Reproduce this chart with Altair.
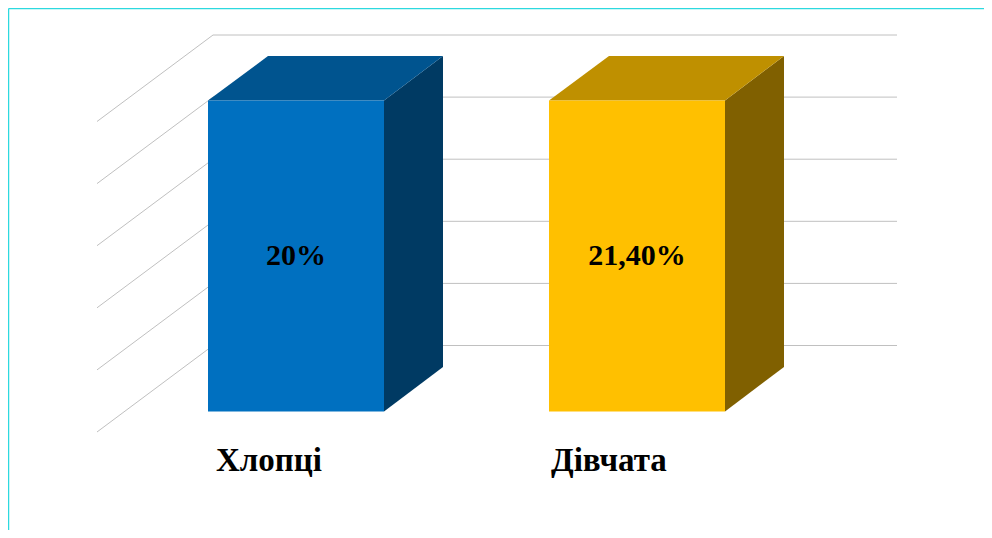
import altair as alt
import pandas as pd

# Chart content
categories = ["Хлопці", "Дівчата"]
value_labels = ["20%", "21,40%"]
bar_heights = [25, 25]          # drawn height on the chart's 0-25 axis
grid_values = [0, 5, 10, 15, 20, 25]

# Colours
front_colors = ["#0070C0", "#FFC000"]
top_colors = ["#00548F", "#BF9000"]
side_colors = ["#003A63", "#806000"]
grid_color = "#C0C0C0"
frame_color = "#2DD9DF"

# Oblique projection, in page units
bar_left = [208, 549]
bar_width = 176
bar_base = 411.5
unit = 12.44
depth_dx = 59
depth_dy = 44.5
wall_left = 97
wall_floor_front = 432
wall_floor_back = 345.5
wall_right = 213
wall_end = 897
grid_unit = 12.42
label_y = 256
cat_x = [216, 551]
cat_y = 470.5
frame_x = 8.6
frame_y = 8.6
page_w = 984
page_h = 530

X = alt.Scale(domain=[10, page_w], range=[0, page_w - 10])
Y = alt.Scale(domain=[10, page_h], range=[0, page_h - 10])
ex = lambda f: alt.X(f, type="quantitative", scale=X, axis=None)
ey = lambda f: alt.Y(f, type="quantitative", scale=Y, axis=None)

# Frame
frame = pd.DataFrame([
    {"x": frame_x, "x2": page_w, "y": frame_y, "y2": frame_y},
    {"x": frame_x, "x2": frame_x, "y": frame_y, "y2": page_h},
])
frame_layer = alt.Chart(frame).mark_rule(color=frame_color, strokeWidth=1.3).encode(
    x=ex("x"), x2="x2", y=ey("y"), y2="y2")

# Walls
walls = []
for v in grid_values:
    walls.append({"x": wall_left, "x2": wall_right,
                  "y": wall_floor_front - v * grid_unit,
                  "y2": wall_floor_back - v * grid_unit})
diag = alt.Chart(pd.DataFrame(walls)).mark_rule(color=grid_color, strokeWidth=1).encode(
    x=ex("x"), x2="x2", y=ey("y"), y2="y2")
horiz = pd.DataFrame([{"x": wall_right, "x2": wall_end, "y": wall_floor_back - v * grid_unit,
                       "y2": wall_floor_back - v * grid_unit} for v in grid_values])
horiz_layer = alt.Chart(horiz).mark_rule(color=grid_color, strokeWidth=1).encode(
    x=ex("x"), x2="x2", y=ey("y"), y2="y2")

# Bars
front, top, side, labels, cats = [], [], [], [], []
for i, cat in enumerate(categories):
    L, R = bar_left[i], bar_left[i] + bar_width
    T = bar_base - bar_heights[i] * unit
    front.append({"x": L, "x2": R, "y": T, "y2": bar_base, "c": front_colors[i]})
    top += [
        {"cat": cat, "y": T, "x": L, "x2": R, "c": top_colors[i]},
        {"cat": cat, "y": T - depth_dy, "x": L + depth_dx + 1, "x2": R + depth_dx, "c": top_colors[i]},
    ]
    side += [
        {"cat": cat, "x": R, "y": T, "y2": bar_base, "c": side_colors[i]},
        {"cat": cat, "x": R + depth_dx, "y": T - depth_dy, "y2": bar_base - depth_dy, "c": side_colors[i]},
    ]
    labels.append({"x": (L + R) / 2, "y": label_y, "t": value_labels[i]})
    cats.append({"x": cat_x[i], "y": cat_y, "t": cat})

color = alt.Color("c:N", scale=None, legend=None)
side_layer = alt.Chart(pd.DataFrame(side)).mark_area(interpolate="linear", orient="vertical").encode(
    x=ex("x"), y=ey("y"), y2="y2", detail="cat:N", color=color)
top_layer = alt.Chart(pd.DataFrame(top)).mark_area(interpolate="linear", orient="horizontal").encode(
    y=ey("y"), x=ex("x"), x2="x2", detail="cat:N", color=color)
front_layer = alt.Chart(pd.DataFrame(front)).mark_rect().encode(
    x=ex("x"), x2="x2", y=ey("y"), y2="y2", color=color)

FONT = "Liberation Serif"
label_layer = alt.Chart(pd.DataFrame(labels)).mark_text(
    font=FONT, fontWeight="bold", fontSize=30, align="center", baseline="middle", color="#000000"
).encode(x=ex("x"), y=ey("y"), text="t:N")
cat_layer = alt.Chart(pd.DataFrame(cats)).mark_text(
    font=FONT, fontWeight="bold", fontSize=33, align="left", baseline="alphabetic", color="#000000"
).encode(x=ex("x"), y=ey("y"), text="t:N")

chart = alt.layer(
    frame_layer, diag, horiz_layer, side_layer, top_layer, front_layer, label_layer, cat_layer
).properties(
    width=page_w - 10, height=page_h - 10,
    padding={"left": 2, "top": 2, "right": 0, "bottom": 0},
    autosize="none", background="#FFFFFF",
).configure_view(stroke=None)

chart.save("out.html", embed_options={"renderer": "svg", "actions": False})
